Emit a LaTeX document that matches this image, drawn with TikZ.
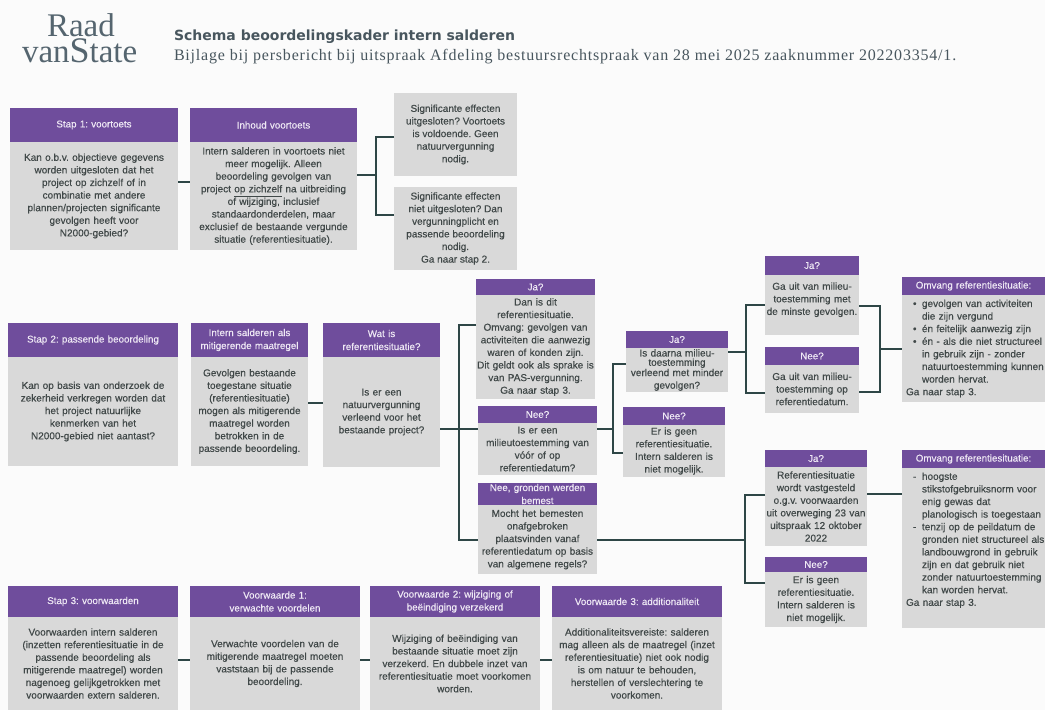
\documentclass[tikz,border=0pt]{standalone}
\usepackage{fontspec}
\setmainfont{Liberation Sans}
\newfontfamily\bodyf[FakeBold=0.4]{Liberation Sans}
\newfontfamily\headf[FakeBold=0.3]{Liberation Sans}
\newfontfamily\titlef{DejaVu Sans Bold}
\newfontfamily\subf[LetterSpace=5]{Liberation Serif}
\newfontfamily\logof{Liberation Serif}
\definecolor{bgc}{HTML}{FBFBFB}
\definecolor{purp}{HTML}{6F4D9C}
\definecolor{greyb}{HTML}{D9D9D9}
\definecolor{linec}{HTML}{2E4646}
\definecolor{txtc}{HTML}{404848}
\definecolor{headt}{HTML}{EFE9F5}
\definecolor{logoc}{HTML}{55656F}
\newcommand\ls[1]{\fontsize{10}{#1}\selectfont}
\newcommand\bul{\makebox[16pt][l]{\hspace{7pt}•}}
\newcommand\dsh{\makebox[16pt][l]{\hspace{7pt}-}}
\newcommand\ind{\hspace*{16pt}}
\newcommand\oml[1]{\mbox{\hspace*{3pt}#1}}
\tikzset{
  headbox/.style={fill=purp,text=headt,align=center,inner sep=0,outer sep=0,font=\headf\fontsize{9.8}{13}\selectfont},
  bodybox/.style={fill=greyb,text=txtc,align=center,inner sep=0,outer sep=0,font=\bodyf\fontsize{10}{12.6}\selectfont},
  conn/.style={draw=linec,line width=2.8pt,line join=miter},
  titletext/.style={inner sep=0,outer sep=0,anchor=base west}
}
% [body style]{name}{x1}{x2}{y1}{y2}{y3}{title}{body}
\newcommand\pb[9][]{%
  \pgfmathsetmacro\pbw{#4-#3}%
  \pgfmathsetmacro\pbh{#6-#5}%
  \pgfmathsetmacro\pbb{#7-#6}%
  \pgfmathsetmacro\pbt{#4-#3-2}%
  \node[headbox,minimum width=\pbw pt,minimum height=\pbh pt,text width=\pbt pt,anchor=north west] (#2h) at (#3,#5) {#8};
  \node[bodybox,minimum width=\pbw pt,minimum height=\pbb pt,text width=\pbt pt,anchor=north west,#1] (#2) at (#3,#6) {#9};
}
\begin{document}
\frenchspacing
\begin{tikzpicture}[x=1pt,y=-1pt]
\useasboundingbox (0,0) rectangle (1045,710);
\fill[bgc] (0,0) rectangle (1045,710);
% logo and titles
\node[inner sep=0,outer sep=0,anchor=north west,align=left,text=logoc,font=\logof\fontsize{33}{24}\selectfont] (logo) at (22,14) {\hspace*{25pt}Raad\\van{\fontsize{36}{24}\selectfont S}tate};
\node[titletext,text=logoc!85!black,font=\titlef\fontsize{14}{14}\selectfont] (title) at (174,40) {Schema beoordelingskader intern salderen};
\node[titletext,text=logoc!85!black,font=\subf\fontsize{16}{16}\selectfont] (sub) at (174,60) {Bijlage bij persbericht bij uitspraak Afdeling bestuursrechtspraak van 28 mei 2025 zaaknummer 202203354/1.};
% row 1
\pb{st1}{10}{178}{108}{142}{250}{Stap 1: voortoets}{Kan o.b.v. objectieve gegevens\\worden uitgesloten dat het\\project op zichzelf of in\\combinatie met andere\\plannen/projecten significante\\gevolgen heeft voor\\N2000-gebied?}
\pb{inh}{190}{357}{108}{142}{250}{Inhoud voortoets}{Intern salderen in voortoets niet\\meer mogelijk. Alleen\\beoordeling gevolgen van\\project \underline{op zichzelf} na uitbreiding\\of wijziging, inclusief\\standaardonderdelen, maar\\exclusief de bestaande vergunde\\situatie (referentiesituatie).}
\node[bodybox,minimum width=123pt,minimum height=83pt,anchor=north west] (sig1) at (394,93) {Significante effecten\\uitgesloten? Voortoets\\is voldoende. Geen\\natuurvergunning\\nodig.};
\node[bodybox,minimum width=123pt,minimum height=83pt,anchor=north west] (sig2) at (394,187) {Significante effecten\\niet uitgesloten? Dan\\vergunningplicht en\\passende beoordeling\\nodig.\\Ga naar stap 2.};
\coordinate (j1) at (376,175);
\draw[conn] (st1.east |- 0,182) -- (inh.west |- 0,182);
\draw[conn] (inh.east |- j1) -- (j1);
\draw[conn] (sig1.west |- 0,137) -| (j1) |- (sig2.west |- 0,215);
% row 2
\pb{st2}{8}{178}{323}{357}{466}{Stap 2: passende beoordeling}{Kan op basis van onderzoek de\\zekerheid verkregen worden dat\\het project natuurlijke\\kenmerken van het\\N2000-gebied niet aantast?}
\pb{im}{191}{308}{323}{357}{466}{Intern salderen als\\mitigerende maatregel}{Gevolgen bestaande\\toegestane situatie\\(referentiesituatie)\\mogen als mitigerende\\maatregel worden\\betrokken in de\\passende beoordeling.}
\pb{wat}{323}{440}{323}{357}{467}{Wat is\\referentiesituatie?}{Is er een\\natuurvergunning\\verleend voor het\\bestaande project?}
\pb{ja1}{476}{595}{279}{295}{399}{Ja?}{Dan is dit\\referentiesituatie.\\Omvang: gevolgen van\\activiteiten die aanwezig\\waren of konden zijn.\\Dit geldt ook als sprake is\\van PAS-vergunning.\\Ga naar stap 3.}
\pb{nee1}{478}{597}{406}{423}{475}{Nee?}{Is er een\\milieutoestemming van\\vóór of op\\referentiedatum?}
\pb{gr}{478}{597}{483}{505}{574}{\fontsize{9.8}{7.5}\selectfont Nee, gronden werden\\bemest}{Mocht het bemesten\\onafgebroken\\plaatsvinden vanaf\\referentiedatum op basis\\van algemene regels?}
\pb{ja2}{626}{728}{331}{348}{392}{Ja?}{\ls{9.3}Is daarna milieu-\\toestemming\\verleend met minder\\gevolgen?}
\pb{nee2}{623}{725}{407}{425}{477}{Nee?}{Er is geen\\referentiesituatie.\\Intern salderen is\\niet mogelijk.}
\pb{ja3}{765}{859}{256}{275}{335}{Ja?}{Ga uit van milieu-\\toestemming met\\de minste gevolgen.\\~}
\pb{nee3}{765}{859}{347}{365}{413}{Nee?}{Ga uit van milieu-\\toestemming op\\referentiedatum.}
\pb{ja4}{765}{867}{450}{467}{546}{Ja?}{Referentiesituatie\\wordt vastgesteld\\o.g.v. voorwaarden\\uit overweging 23 van\\uitspraak 12 oktober\\2022}
\pb{nee4}{765}{867}{557}{572}{627}{Nee?}{Er is geen\\referentiesituatie.\\Intern salderen is\\niet mogelijk.}
\pb[align=left]{om1}{902}{1045}{277}{295}{402}{Omvang referentiesituatie:}{\oml{\bul gevolgen van activiteiten}\\\oml{\ind die zijn vergund}\\\oml{\bul én feitelijk aanwezig zijn}\\\oml{\bul én - als die niet structureel}\\\oml{\ind in gebruik zijn - zonder}\\\oml{\ind natuurtoestemming kunnen}\\\oml{\ind worden hervat.}\\\oml{Ga naar stap 3.}}
\pb[align=left]{om2}{902}{1045}{450}{468}{628}{Omvang referentiesituatie:}{\oml{\dsh hoogste}\\\oml{\ind stikstofgebruiksnorm voor}\\\oml{\ind enig gewas dat}\\\oml{\ind planologisch is toegestaan}\\\oml{\dsh tenzij op de peildatum de}\\\oml{\ind gronden niet structureel als}\\\oml{\ind landbouwgrond in gebruik}\\\oml{\ind zijn en dat gebruik niet}\\\oml{\ind zonder natuurtoestemming}\\\oml{\ind kan worden hervat.}\\\oml{Ga naar stap 3.}\\[5pt]~}
\coordinate (j2) at (459,429);
\coordinate (j3) at (613,429);
\coordinate (j4) at (746,352);
\coordinate (j5) at (880,349);
\coordinate (j6) at (745,540);
\draw[conn] (im.east |- 0,403) -- (wat.west |- 0,403);
\draw[conn] (wat.east |- j2) -- (j2);
\draw[conn] (ja1.west |- 0,325) -| (j2) |- (gr.west |- 0,540);
\draw[conn] (j2) -- (nee1.west |- j2);
\draw[conn] (nee1.east |- j3) -- (j3);
\draw[conn] (ja2.west |- 0,364) -| (j3) |- (nee2.west |- 0,453);
\draw[conn] (ja2.east |- j4) -- (j4);
\draw[conn] (ja3.west |- 0,305) -| (j4) |- (nee3.west |- 0,393);
\draw[conn] (ja3.east |- 0,306) -| (j5) |- (nee3.east |- 0,392);
\draw[conn] (j5) -- (om1.west |- j5);
\draw[conn] (gr.east |- j6) -- (j6);
\draw[conn] (ja4.west |- 0,495) -| (j6) |- (nee4.west |- 0,583);
\draw[conn] (ja4.east |- 0,494) -- (om2.west |- 0,494);
% row 3
\pb{st3}{8}{178}{586}{617}{710}{Stap 3: voorwaarden}{Voorwaarden intern salderen\\(inzetten referentiesituatie in de\\passende beoordeling als\\mitigerende maatregel) worden\\nagenoeg gelijkgetrokken met\\voorwaarden extern salderen.}
\pb{vw1}{190}{360}{586}{617}{710}{Voorwaarde 1:\\verwachte voordelen}{Verwachte voordelen van de\\mitigerende maatregel moeten\\vaststaan bij de passende\\beoordeling.}
\pb{vw2}{370}{540}{586}{617}{710}{Voorwaarde 2: wijziging of\\beëindiging verzekerd}{Wijziging of beëindiging van\\bestaande situatie moet zijn\\verzekerd. En dubbele inzet van\\referentiesituatie moet voorkomen\\worden.}
\pb{vw3}{552}{722}{586}{617}{710}{Voorwaarde 3: additionaliteit}{Additionaliteitsvereiste: salderen\\mag alleen als de maatregel (inzet\\referentiesituatie) niet ook nodig\\is om natuur te behouden,\\herstellen of verslechtering te\\voorkomen.}
\draw[conn] (st3.east |- 0,660) -- (vw1.west |- 0,660);
\draw[conn] (vw1.east |- 0,660) -- (vw2.west |- 0,660);
\draw[conn] (vw2.east |- 0,660) -- (vw3.west |- 0,660);
\end{tikzpicture}
\end{document}
